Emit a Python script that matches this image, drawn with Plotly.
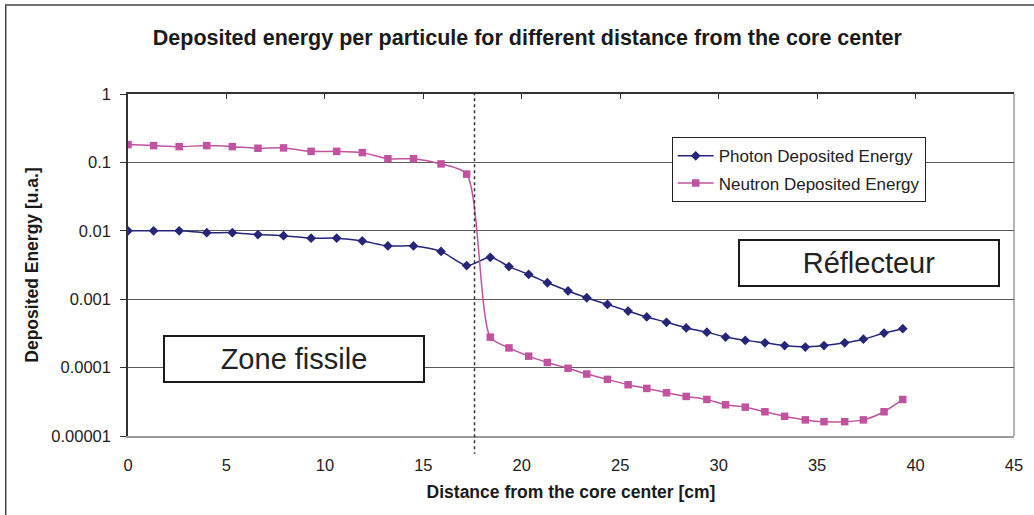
import plotly.graph_objects as go

distance_cm = [0, 1.3, 2.6, 4.0, 5.3, 6.6, 7.9, 9.3, 10.6, 11.9, 13.2, 14.5, 15.9, 17.2,
               18.4, 19.35, 20.35, 21.3, 22.35, 23.3, 24.35, 25.4, 26.35, 27.35, 28.35,
               29.4, 30.35, 31.35, 32.35, 33.35, 34.4, 35.35, 36.4, 37.35, 38.4, 39.35]

photon_energy = [0.0100, 0.0100, 0.0100, 0.0094, 0.0094, 0.0088, 0.0085, 0.0078, 0.0078,
                 0.0071, 0.0060, 0.0060, 0.0050, 0.0031,
                 0.0041, 0.0030, 0.0023, 0.00174, 0.00132, 0.00105, 0.00084, 0.00067,
                 0.00055, 0.00046, 0.00038, 0.00033, 0.00028, 0.00025, 0.00023, 0.00021,
                 0.00020, 0.00021, 0.00023, 0.00026, 0.00032, 0.00037]

neutron_energy = [0.182, 0.176, 0.170, 0.176, 0.170, 0.161, 0.163, 0.145, 0.145, 0.139,
                  0.113, 0.113, 0.095, 0.0675,
                  0.000279, 0.000194, 0.000147, 0.000119, 0.0000976, 0.0000805, 0.0000673,
                  0.0000562, 0.0000496, 0.0000429, 0.0000379, 0.0000342, 0.0000286,
                  0.0000264, 0.0000226, 0.0000194, 0.0000172, 0.0000162, 0.0000162,
                  0.0000172, 0.0000226, 0.0000342]

x_ticks = [0, 5, 10, 15, 20, 25, 30, 35, 40, 45]
y_ticks = [0.00001, 0.0001, 0.001, 0.01, 0.1, 1]
y_tick_labels = ["0.00001", "0.0001", "0.001", "0.01", "0.1", "1"]
boundary_cm = 17.6

FONT = "Liberation Sans, Arial, sans-serif"
PHOTON_COLOR = "#25257A"
NEUTRON_COLOR = "#C0529F"

fig = go.Figure()
fig.add_trace(go.Scatter(
    x=distance_cm, y=photon_energy, mode="lines+markers",
    name="Photon Deposited Energy", legendgroup="p",
    line=dict(color=PHOTON_COLOR, width=1.5, shape="spline", smoothing=0.7),
    marker=dict(symbol="diamond", size=7.5, color=PHOTON_COLOR)))
fig.add_trace(go.Scatter(
    x=distance_cm, y=neutron_energy, mode="lines+markers",
    name="Neutron Deposited Energy", legendgroup="n",
    line=dict(color=NEUTRON_COLOR, width=1.5, shape="spline", smoothing=0.7),
    marker=dict(symbol="square", size=7.5, color=NEUTRON_COLOR)))

# invisible trace for the top x axis (Excel crosses the category axis at 1)
fig.add_trace(go.Scatter(x=[0, 45], y=[1, 1], xaxis="x2", mode="lines",
                         line=dict(width=0), showlegend=False, hoverinfo="skip"))

fig.update_layout(
    width=1034, height=515,
    margin=dict(l=128, r=20, t=94, b=79),
    paper_bgcolor="white", plot_bgcolor="white",
    font=dict(family=FONT, color="#222222"),
    title=dict(text="<b>Deposited energy per particule for different distance from the core center</b>",
               font=dict(size=21.5, family=FONT, color="#1a1a1a"),
               x=0.51, xref="container", xanchor="center",
               y=1 - 37 / 515, yref="container", yanchor="middle"),
    xaxis=dict(range=[0, 45], tickvals=x_ticks, showgrid=False, zeroline=False,
               showline=True, linecolor="#9a9a9a", linewidth=1.5,
               ticks="", ticklabelstandoff=13,
               tickfont=dict(size=16.5, family=FONT, color="#222222"),
               title=dict(text="<b>Distance from the core center [cm]</b>",
                          font=dict(size=17.5, family=FONT, color="#1a1a1a"), standoff=13)),
    xaxis2=dict(range=[0, 45], tickvals=x_ticks, overlaying="x", side="top",
                showticklabels=False, showgrid=False, zeroline=False,
                showline=True, linecolor="#333333", linewidth=1.5,
                ticks="inside", ticklen=5, tickwidth=1.2, tickcolor="#333333"),
    yaxis=dict(type="log", range=[-5, 0], tickvals=y_ticks, ticktext=y_tick_labels,
               showgrid=True, gridcolor="#5a5a5a", gridwidth=1,
               showline=True, linecolor="#333333", linewidth=1.5,
               ticks="outside", ticklen=6, tickwidth=1.2, tickcolor="#333333",
               ticklabelstandoff=6,
               tickfont=dict(size=16.5, family=FONT, color="#222222"),
               title=dict(text="<b>Deposited Energy [u.a.]</b>",
                          font=dict(size=17.5, family=FONT, color="#1a1a1a"), standoff=8)),
    legend=dict(x=(671.7 - 128) / 886, y=(436 - 137.3) / 342, xanchor="left", yanchor="top",
                bgcolor="white", bordercolor="#222222", borderwidth=1,
                font=dict(size=17, family=FONT, color="#222222"),
                tracegroupgap=2, itemwidth=36),
    showlegend=True,
)

# plot-area right border (grey)
fig.add_shape(type="line", xref="x domain", yref="y domain", x0=1, x1=1, y0=0, y1=1,
              line=dict(color="#9a9a9a", width=1.5), layer="below")
# boundary between the two zones
fig.add_shape(type="line", xref="x", yref="y domain", x0=boundary_cm, x1=boundary_cm,
              y0=1.005, y1=-0.052, line=dict(color="#333333", width=1.5, dash="dot"))
# outer chart border
fig.add_shape(type="rect", xref="paper", yref="paper", x0=-0.138, x1=1.1, y0=-0.4, y1=1.26,
              line=dict(color="#444444", width=1.5), fillcolor="rgba(0,0,0,0)", layer="below")

fig.add_annotation(text="Zone fissile", xref="paper", yref="paper",
                   x=(293.8 - 128) / 886, y=(436 - 359) / 342, showarrow=False,
                   xanchor="center", yanchor="middle",
                   font=dict(size=29, family=FONT, color="#222222"),
                   width=258, height=44, bgcolor="white", bordercolor="#1a1a1a",
                   borderwidth=2, borderpad=0)
fig.add_annotation(text="Réflecteur", xref="paper", yref="paper",
                   x=(868.7 - 128) / 886, y=(436 - 263.3) / 342, showarrow=False,
                   xanchor="center", yanchor="middle",
                   font=dict(size=29, family=FONT, color="#222222"),
                   width=258, height=44, bgcolor="white", bordercolor="#1a1a1a",
                   borderwidth=2, borderpad=0)

fig.write_html("out.html", config={"displayModeBar": False},
               post_script="document.body.style.margin='0px';")
